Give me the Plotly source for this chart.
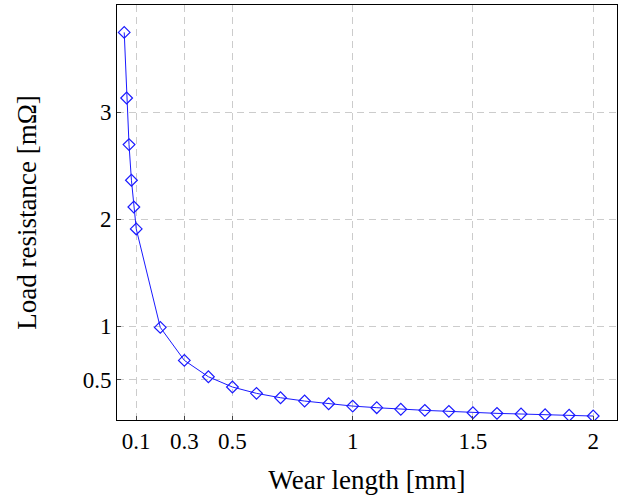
import plotly.graph_objects as go

wear_length = [0.05, 0.06, 0.07, 0.08, 0.09, 0.1, 0.2, 0.3, 0.4, 0.5, 0.6, 0.7, 0.8,
               0.9, 1.0, 1.1, 1.2, 1.3, 1.4, 1.5, 1.6, 1.7, 1.8, 1.9, 2.0]
load_resistance = [3.744, 3.131, 2.696, 2.363, 2.113, 1.908, 0.988, 0.680, 0.527, 0.431,
                   0.372, 0.331, 0.300, 0.275, 0.253, 0.238, 0.223, 0.213, 0.204, 0.191,
                   0.185, 0.179, 0.172, 0.167, 0.160]
x_ticks = [0.1, 0.3, 0.5, 1, 1.5, 2]
y_ticks = [0.5, 1, 2, 3]

font = "'Liberation Serif', 'DejaVu Serif', serif"

fig = go.Figure()
fig.add_trace(go.Scatter(
    x=wear_length, y=load_resistance, mode="lines+markers",
    line=dict(color="#1a1aff", width=1),
    marker=dict(symbol="diamond-open", size=9, color="#1a1aff", line=dict(width=1.2, color="#1a1aff")),
    showlegend=False,
))

axis_common = dict(
    showgrid=True, gridcolor="#cccccc", griddash="7px,5px", gridwidth=1,
    showline=True, linecolor="black", linewidth=1, mirror=True,
    ticks="inside", ticklen=4, tickcolor="#444", zeroline=False,
    tickfont=dict(family=font, size=23, color="black"),
    automargin=False,
)

fig.update_layout(
    width=619, height=496,
    margin=dict(l=117, r=2, t=5, b=76),
    paper_bgcolor="white", plot_bgcolor="white",
    font=dict(family=font, color="black"),
    xaxis=dict(range=[0.02, 2.099], tickvals=x_ticks, ticktext=[str(v) for v in x_ticks],
               title=dict(text="Wear length [mm]", font=dict(family=font, size=27), standoff=17),
               **axis_common),
    yaxis=dict(range=[0.123, 4.0], tickvals=y_ticks, ticktext=[str(v) for v in y_ticks],
               title=dict(text="Load resistance [mΩ]", font=dict(family=font, size=27), standoff=38),
               **axis_common),
)

fig.write_html("out.html", config={"displayModeBar": False},
               post_script="document.body.style.margin='0';document.body.style.overflow='hidden';")
